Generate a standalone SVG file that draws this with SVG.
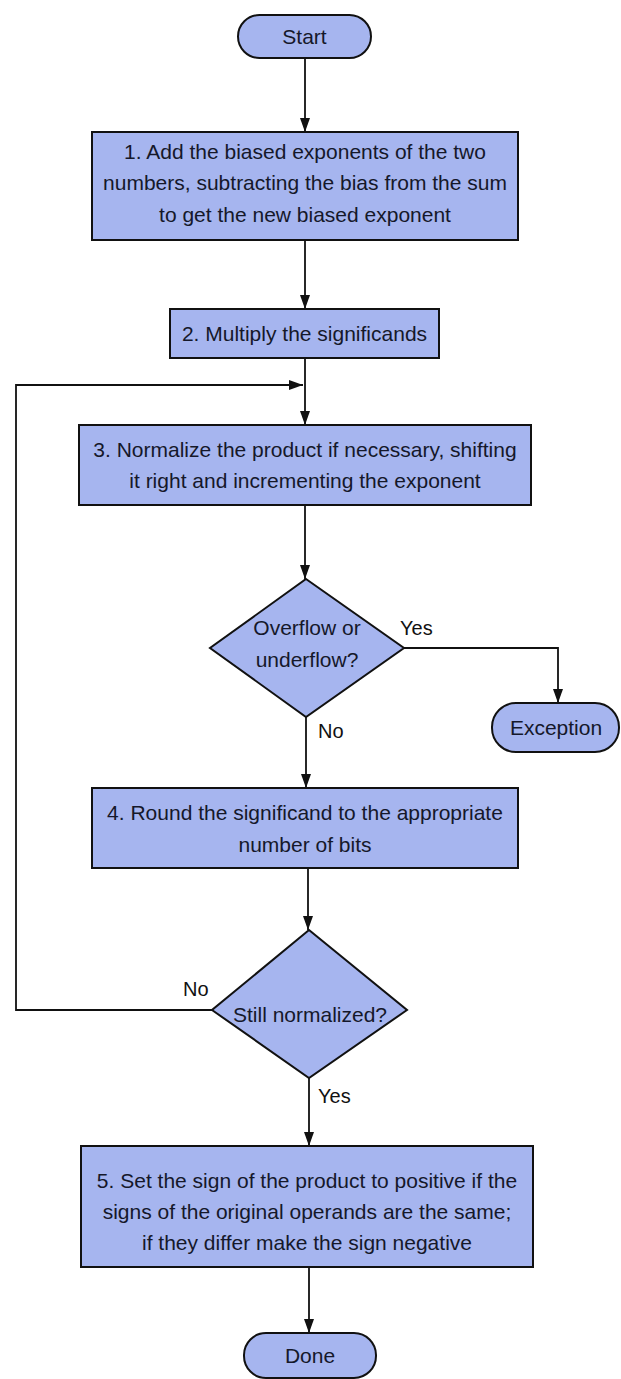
<svg xmlns="http://www.w3.org/2000/svg" width="621" height="1379" viewBox="0 0 621 1379">
<style>
.box{fill:#a6b5ef;stroke:#111;stroke-width:2}
.t{font-family:"Liberation Sans",Arial,sans-serif;font-size:21px;fill:#15182a;text-anchor:middle}
.lbl{font-family:"Liberation Sans",Arial,sans-serif;font-size:20px;fill:#111}
.c{fill:none;stroke:#111;stroke-width:1.8}
</style>
<defs>
<marker id="ah" viewBox="0 0 14 10" refX="14" refY="5" markerWidth="14" markerHeight="10" markerUnits="userSpaceOnUse" orient="auto">
<path d="M0,0 L14,5 L0,10 z" fill="#111"/>
</marker>
</defs>
<rect width="621" height="1379" fill="#fff"/>
<g id="connectors">
<line class="c" x1="305" y1="58" x2="305" y2="132" marker-end="url(#ah)"/>
<line class="c" x1="305" y1="240" x2="305" y2="309" marker-end="url(#ah)"/>
<line class="c" x1="305" y1="358" x2="305" y2="425" marker-end="url(#ah)"/>
<line class="c" x1="305" y1="505" x2="305" y2="579" marker-end="url(#ah)"/>
<polyline class="c" points="404,648 558,648 558,703" marker-end="url(#ah)"/>
<line class="c" x1="306" y1="717" x2="306" y2="788" marker-end="url(#ah)"/>
<line class="c" x1="308" y1="868" x2="308" y2="930" marker-end="url(#ah)"/>
<polyline class="c" points="212,1010 16,1010 16,385 303,385" marker-end="url(#ah)"/>
<line class="c" x1="309" y1="1078" x2="309" y2="1146" marker-end="url(#ah)"/>
<line class="c" x1="309" y1="1267" x2="309" y2="1333" marker-end="url(#ah)"/>
<text class="lbl" x="400" y="635">Yes</text>
<text class="lbl" x="318" y="738">No</text>
<text class="lbl" x="183" y="996">No</text>
<text class="lbl" x="318" y="1103">Yes</text>
</g>
<g id="start">
<rect class="box" x="238" y="15" width="133" height="43" rx="21.5"/>
<text class="t" x="304.5" y="44">Start</text>
</g>
<g id="step1">
<rect class="box" x="92" y="132" width="426" height="108"/>
<text class="t" x="305" y="159">1. Add the biased exponents of the two</text>
<text class="t" x="305" y="190">numbers, subtracting the bias from the sum</text>
<text class="t" x="305" y="222">to get the new biased exponent</text>
</g>
<g id="step2">
<rect class="box" x="170" y="309" width="269" height="49"/>
<text class="t" x="304.5" y="341">2. Multiply the significands</text>
</g>
<g id="step3">
<rect class="box" x="79" y="425" width="452" height="80"/>
<text class="t" x="305" y="457">3. Normalize the product if necessary, shifting</text>
<text class="t" x="305" y="488">it right and incrementing the exponent</text>
</g>
<g id="overflow">
<polygon class="box" points="306,579 404,648 306,717 210,648"/>
<text class="t" x="307" y="635">Overflow or</text>
<text class="t" x="307" y="667">underflow?</text>
</g>
<g id="exception">
<rect class="box" x="492" y="703" width="127" height="49" rx="24"/>
<text class="t" x="556" y="735">Exception</text>
</g>
<g id="step4">
<rect class="box" x="92" y="788" width="426" height="80"/>
<text class="t" x="305" y="820">4. Round the significand to the appropriate</text>
<text class="t" x="305" y="852">number of bits</text>
</g>
<g id="normalized">
<polygon class="box" points="309,930 407,1010 309,1078 212,1010"/>
<text class="t" x="310" y="1022">Still normalized?</text>
</g>
<g id="step5">
<rect class="box" x="81" y="1146" width="452" height="121"/>
<text class="t" x="307" y="1188">5. Set the sign of the product to positive if the</text>
<text class="t" x="307" y="1219">signs of the original operands are the same;</text>
<text class="t" x="307" y="1250">if they differ make the sign negative</text>
</g>
<g id="done">
<rect class="box" x="244" y="1333" width="132" height="45" rx="22"/>
<text class="t" x="310" y="1363">Done</text>
</g>
</svg>
